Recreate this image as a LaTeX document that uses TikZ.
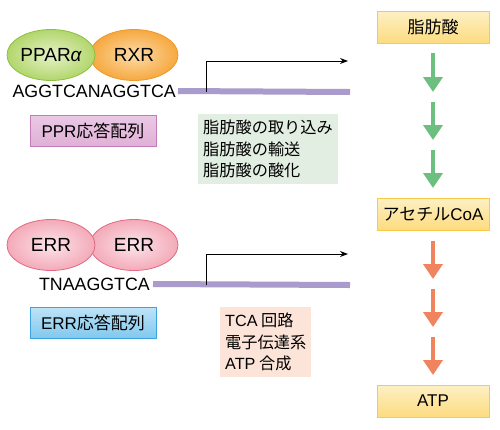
\documentclass[tikz,border=0pt]{standalone}
\usepackage{fontspec}
\setmainfont{Liberation Sans}
\newfontfamily\jp{Noto Sans CJK JP}
\usetikzlibrary{arrows.meta,positioning,shapes.geometric}

\definecolor{dnacol}{HTML}{A99BCB}
\definecolor{upcol}{HTML}{6CBF7E}
\definecolor{downcol}{HTML}{F0845E}
\definecolor{metabline}{HTML}{FBC94A}
\definecolor{metabtop}{HTML}{FDF0C4}
\definecolor{metabbot}{HTML}{FDDC80}
\definecolor{pprline}{HTML}{C47CB8}
\definecolor{pprtop}{HTML}{EBC8E6}
\definecolor{pprbot}{HTML}{DFB0D6}
\definecolor{errline}{HTML}{3AA3E3}
\definecolor{errtop}{HTML}{BDE3F7}
\definecolor{errbot}{HTML}{80C8EE}
\definecolor{pparin}{HTML}{E6F2C8}
\definecolor{pparout}{HTML}{B2D66C}
\definecolor{pparline}{HTML}{8DC040}
\definecolor{rxrin}{HTML}{FCDCA8}
\definecolor{rxrout}{HTML}{F6A840}
\definecolor{rxrline}{HTML}{EE9A2A}
\definecolor{errin}{HTML}{FCE4EA}
\definecolor{errout}{HTML}{F3AAB8}
\definecolor{errpline}{HTML}{E26A86}
\definecolor{faobg}{HTML}{E2EEE2}
\definecolor{oxpbg}{HTML}{FDE4D8}

\begin{document}
\begin{tikzpicture}[x=1pt, y=-1pt,
  font=\fontsize{17}{20}\selectfont,
  prot/.style={ellipse, draw, line width=0.8pt, minimum width=88pt, minimum height=51pt, inner sep=0pt,
    font=\fontsize{19}{20}\selectfont},
  metab/.style={draw=metabline, line width=1pt, minimum width=112pt, minimum height=32pt,
    top color=metabtop, middle color=white, bottom color=metabbot, inner sep=0pt},
  elem/.style={line width=1pt, minimum width=126pt, minimum height=31pt, inner sep=0pt},
  genes/.style={align=left, inner xsep=5pt, inner ysep=6pt, font=\jp\fontsize{16.2}{21.5}\selectfont},
  seqtext/.style={anchor=east, inner sep=0pt, font=\fontsize{17.8}{20}\selectfont},
  dna/.style={dnacol, line width=6pt},
  tss/.style={line width=1pt, -{Stealth[length=8pt, width=6pt]}},
  fat/.style={line width=4.5pt, -{Triangle[length=15pt, width=19pt]}},
]
\useasboundingbox (0,0) rectangle (500,429);

% PPAR side
\node[prot, draw=rxrline, inner color=rxrin, outer color=rxrout] (rxr) at (134,55) {RXR};
\node[prot, draw=pparline, inner color=pparin, outer color=pparout] (ppar) at (51,55) {PPAR{\itshape α}};
\node[seqtext] (seq1) at (176,91) {AGGTCANAGGTCA};
\node[elem, draw=pprline, top color=pprtop, middle color=pprtop!40, bottom color=pprbot] (ppre) at (93,131) {PPR{\jp 応答配列}};
\coordinate (dna1e) at (350,92);
\draw[dna] (seq1.east) ++(2,0) -- (dna1e);
\coordinate (tss1) at (206,92);
\coordinate (tss1e) at (348,61);
\draw[tss] (tss1) |- (tss1e);
\node[genes, fill=faobg, anchor=north west] (fao) at (198,114) {脂肪酸の取り込み\\脂肪酸の輸送\\脂肪酸の酸化};

% ERR side
\node[prot, draw=errpline, inner color=errin, outer color=errout] (err2) at (134,245) {ERR};
\node[prot, draw=errpline, inner color=errin, outer color=errout] (err1) at (51,245) {ERR};
\node[seqtext] (seq2) at (150,284) {TNAAGGTCA};
\node[elem, draw=errline, top color=errtop, middle color=errtop!30, bottom color=errbot] (erre) at (93,323) {ERR{\jp 応答配列}};
\coordinate (dna2e) at (350,285);
\draw[dna] (seq2.east) ++(3,0) -- (dna2e);
\coordinate (tss2) at (206,285);
\coordinate (tss2e) at (348,254);
\draw[tss] (tss2) |- (tss2e);
\node[genes, fill=oxpbg, anchor=north west] (oxp) at (220,307)
  {{\rmfamily TCA} 回路\\電子伝達系\\{\rmfamily ATP} 合成};

% metabolism
\node[metab] (fa) at (433,27) {\jp 脂肪酸};
\node[metab] (acoa) at (433,214) {{\jp アセチル}CoA};
\node[metab] (atp) at (433,401) {ATP};
\foreach \i/\a/\b in {1/53/92, 2/102/140, 3/150/188}
  \draw[fat, upcol] (433,\a) coordinate (u\i) -- (433,\b) coordinate (v\i);
\foreach \i/\a/\b in {1/241/279, 2/289/327, 3/337/375}
  \draw[fat, downcol] (433,\a) coordinate (p\i) -- (433,\b) coordinate (q\i);

\end{tikzpicture}
\end{document}
